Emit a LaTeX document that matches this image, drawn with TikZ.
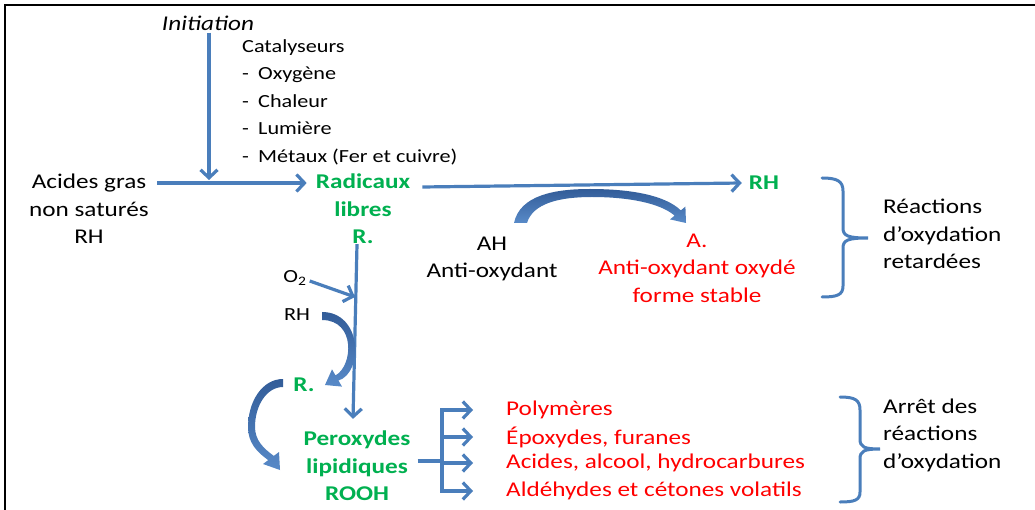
\documentclass[tikz,border=0pt]{standalone}
\usepackage{fontspec}
\setmainfont{Carlito}[FakeStretch=1.2]
\usetikzlibrary{arrows.meta}
\definecolor{blueA}{RGB}{74,126,187}
\definecolor{blueD}{RGB}{50,92,152}
\definecolor{blueL}{RGB}{88,138,200}
\definecolor{greenA}{RGB}{0,176,80}
\definecolor{redA}{RGB}{255,0,0}
\begin{document}
\begin{tikzpicture}[x=1pt,y=-1pt,
  txt/.style={inner sep=0pt, font=\fontsize{21}{27.5}\selectfont},
  txts/.style={inner sep=0pt, font=\fontsize{18.5}{27.5}\selectfont},
  grn/.style={inner sep=0pt, text=greenA, font=\fontsize{21}{27.5}\selectfont\bfseries},
  redt/.style={txt, text=redA},
  arr/.style={draw=blueA, line width=3.2pt, -{Straight Barb[length=8pt,width=17pt]}},
  bline/.style={draw=blueA, line width=3.2pt},
  bracest/.style={draw=blueA, line width=3pt, line cap=round},
  carrow/.style={top color=blueD, bottom color=blueL, draw=none}]
\useasboundingbox (0,0) rectangle (1035,510);
\fill[white] (0,0) rectangle (1035,510);
\draw[line width=1.8pt] (1035,4.7) -- (4.7,4.7) -- (4.7,510);

% nodes
\node[txt, font=\fontsize{21}{27.5}\selectfont\itshape] (init) at (208,23) {Initiation};
\node[txts, align=left, anchor=west] (cat) at (242,102) {Catalyseurs\\\makebox[16pt][l]{-}Oxygène\\\makebox[16pt][l]{-}Chaleur\\\makebox[16pt][l]{-}Lumière\\\makebox[16pt][l]{-}Métaux (Fer et cuivre)};
\node[txt, align=center] (acides) at (89,209) {Acides gras\\non saturés\\RH};
\node[grn, align=center] (rad) at (363,209) {Radicaux\\libres\\R.};
\node[grn] (rh1) at (764,183) {RH};
\node[txt, align=center] (ah) at (492,259) {AH\\Anti-oxydant};
\node[redt, align=center] (aox) at (697,268) {A.\\Anti-oxydant oxydé\\forme stable};
\node[txt, align=left, anchor=west] (ret) at (883,234) {Réactions\\d’oxydation\\retardées};
\node[txts] (o2) at (295,278) {O\textsubscript{2}};
\node[txts] (rh2) at (297,315) {RH};
\node[grn] (r2) at (304,385) {R.};
\node[grn, align=center] (perox) at (357,466) {Peroxydes\\lipidiques\\ROOH};
\node[redt, anchor=west] (p1) at (506,410) {Polymères};
\node[redt, anchor=west] (p2) at (506,437) {Époxydes, furanes};
\node[redt, anchor=west] (p3) at (506,463) {Acides, alcool, hydrocarbures};
\node[redt, anchor=west] (p4) at (506,491) {Aldéhydes et cétones volatils};
\node[txt, align=left, anchor=west] (arret) at (883,435) {Arrêt des\\réactions\\d’oxydation};

% connectors
\coordinate (junc) at (209,180);
\draw[arr] ([yshift=-2pt]init.south -| junc) -- (junc);
\draw[arr] ([shift={(8,-26)}]acides.east) -- ([shift={(-9,-26)}]rad.west);
\draw[arr] ([shift={(12,-22)}]rad.east) -- ([shift={(-7,0)}]rh1.west);
\draw[arr] ([shift={(-6,0)}]rad.south) -- ([shift={(-4,-12)}]perox.north);
\coordinate (o2end) at (355,297);
\draw[arr] ([shift={(3,3)}]o2.east) -- (o2end);
\coordinate (bar) at (442,461);
\draw[bline] ([shift={(7,-5)}]perox.east) -- (bar);
\draw[bline, line cap=rect] (bar |- p1) -- (bar |- p4);
\foreach \p in {p1,p2,p3,p4} \draw[arr] (bar |- \p) -- ([xshift=-33pt]\p.west);

% braces
\draw[bracest] (822,178) .. controls (837,178) and (843,181) .. (843,191) -- (843,228) .. controls (843,236) and (848,238) .. (868,238) .. controls (848,238) and (843,240) .. (843,248) -- (843,286) .. controls (843,295) and (837,297) .. (822,297);
\draw[bracest] (840,397) .. controls (855,397) and (860,400) .. (860,410) -- (860,439) .. controls (860,447) and (864,449) .. (880,449) .. controls (864,449) and (860,451) .. (860,459) -- (860,492) .. controls (860,500) and (855,502) .. (840,502);

% curved block arrows
\path[carrow] (514,223) .. controls (520,195) and (555,189) .. (590,189) .. controls (630,189) and (665,195) .. (680.8,210.4) -- (685.4,206.6) -- (686,223) -- (670,219.4) -- (674.6,215.6) .. controls (660,203) and (628,197) .. (592,197) .. controls (560,197) and (533,203) .. (527,223) -- cycle;
\path[carrow] (322,312) .. controls (362,312) and (364,372) .. (338.5,380.6) -- (342,386.6) -- (325,385) -- (332,369.4) -- (335.5,375.4) .. controls (353,366) and (356,320) .. (322,320) -- cycle;
\path[carrow] (283,379) .. controls (262,379) and (248,402) .. (248,427) .. controls (248,443) and (257,452) .. (268.2,460.1) -- (263,464) -- (280,470) -- (279,452) -- (273.8,455.9) .. controls (263,448) and (255,440) .. (255,427) .. controls (255,405) and (267,387) .. (283,387) -- cycle;
\end{tikzpicture}
\end{document}
